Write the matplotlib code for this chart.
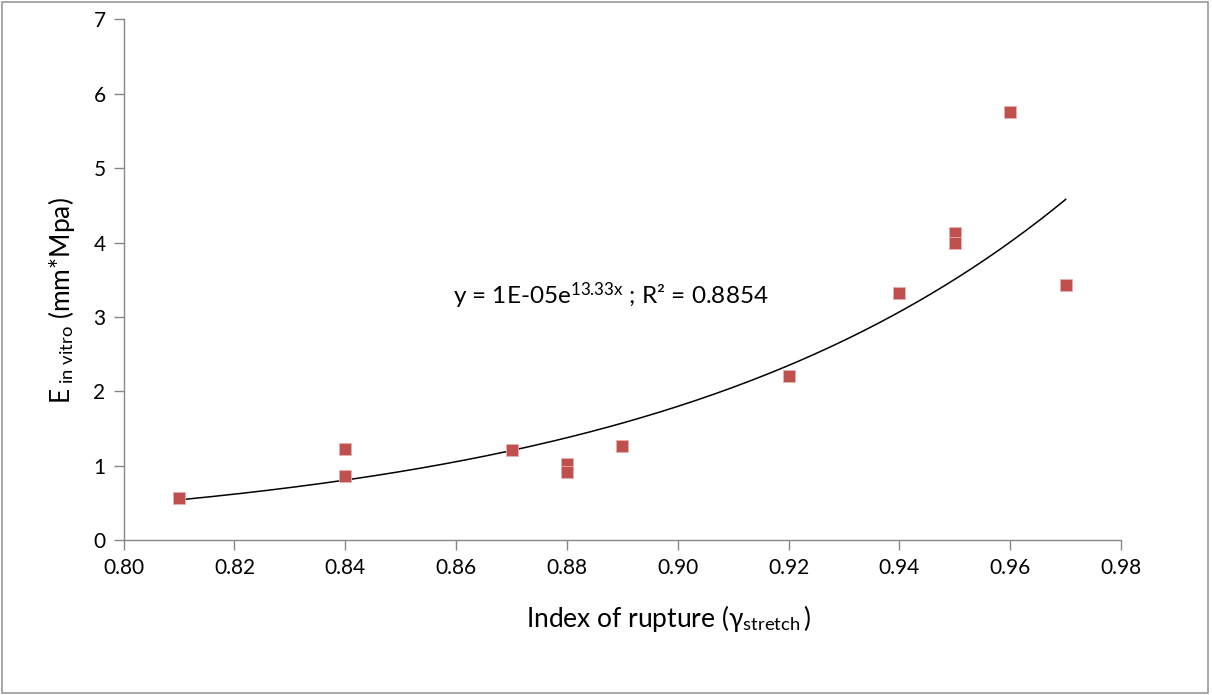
import numpy as np
import matplotlib.pyplot as plt
from matplotlib.patches import Rectangle

# values
rupture_index = [0.81, 0.84, 0.84, 0.87, 0.88, 0.88, 0.89, 0.92, 0.94, 0.95, 0.95, 0.96, 0.97]
e_in_vitro = [0.57, 1.23, 0.86, 1.21, 1.02, 0.91, 1.27, 2.20, 3.32, 4.13, 3.99, 5.75, 3.43]
xticks = [0.80, 0.82, 0.84, 0.86, 0.88, 0.90, 0.92, 0.94, 0.96, 0.98]
yticks = [0, 1, 2, 3, 4, 5, 6, 7]

plt.rcParams['font.family'] = ['Lato', 'DejaVu Sans']
plt.rcParams['mathtext.fontset'] = 'custom'
plt.rcParams['mathtext.rm'] = 'Lato'
plt.rcParams['mathtext.it'] = 'Lato:italic'
plt.rcParams['mathtext.sf'] = 'Lato'
plt.rcParams['mathtext.fallback'] = 'stixsans'

grey = '#868686'

fig = plt.figure(figsize=(12.12, 6.95), dpi=100)
ax = fig.add_axes([0.102, 0.223, 0.823, 0.749])

# exponential trendline (least squares on log y, like excel)
x = np.array(rupture_index)
y = np.array(e_in_vitro)
b, lna = np.polyfit(x, np.log(y), 1)
xf = np.linspace(x.min(), x.max(), 200)
ax.plot(xf, np.exp(lna) * np.exp(b * xf), color='black', lw=1.1, zorder=2)

ax.scatter(x, y, marker='s', s=78, color='#C0504D', edgecolors='#e8b0ae',
           linewidths=0.6, zorder=3)

ax.text(0.8594, 3.29, r'y = 1E-05e$^{\mathrm{13.33x}}$ ; R² = 0.8854',
        fontsize=17.5, ha='left', va='center')

ax.set_xlim(0.80, 0.98)
ax.set_ylim(0, 7)
ax.set_xticks(xticks)
ax.set_xticklabels(['%.2f' % t for t in xticks])
ax.set_yticks(yticks)
ax.tick_params(direction='out', length=7, width=1, color=grey, labelsize=15, pad=6)
for s in ['top', 'right']:
    ax.spines[s].set_visible(False)
for s in ['left', 'bottom']:
    ax.spines[s].set_color(grey)
    ax.spines[s].set_linewidth(1)

# x label placed as text, a bit right of the axes centre like the original
ax.text(0.546, -0.150, r'Index of rupture ($\mathrm{\gamma}_{\mathrm{stretch}}$' + '\u2009)',
        transform=ax.transAxes, fontsize=19, ha='center', va='center')
ax.set_ylabel(r'E$_{\mathrm{\ in\ vitro}}$ (mm*Mpa)', fontsize=19, va='center')
ax.yaxis.set_label_coords(-0.062, 0.459)

fig.patches.append(Rectangle((0.002, 0.003), 0.995, 0.994, transform=fig.transFigure,
                             fill=False, edgecolor='#9a9a9a', lw=1.2))

fig.savefig('out.png', dpi=100)
